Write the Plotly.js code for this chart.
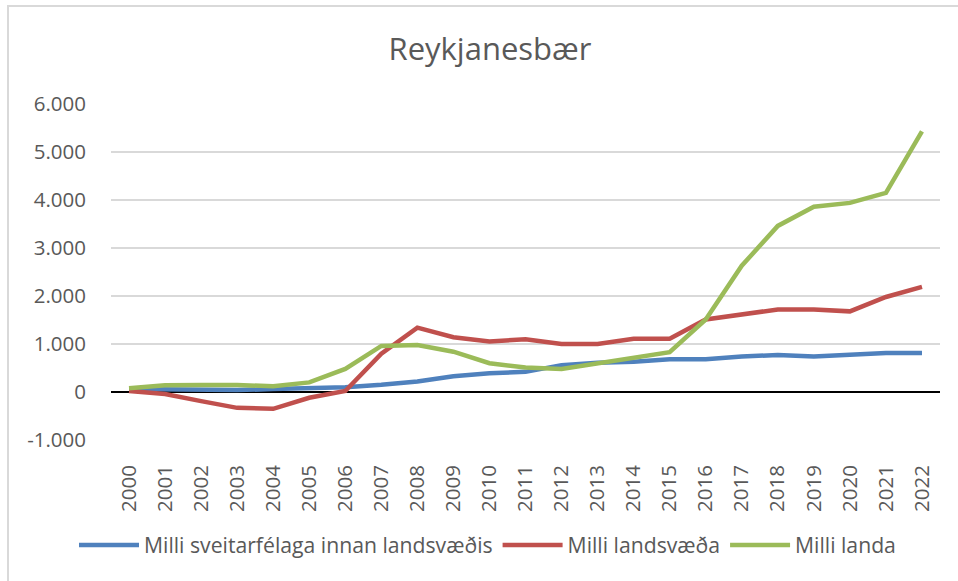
<!DOCTYPE html>
<html>
<head>
<meta charset="utf-8">
<script src="https://cdn.plot.ly/plotly-3.0.1.min.js"></script>
<style>
  html, body { margin: 0; padding: 0; background: #fff; }
  #frame { position: absolute; left: 7px; top: 5px; width: 1000px; height: 640px; border: 2px solid #d9d9d9; box-sizing: border-box; }
  #chart { position: absolute; left: 0; top: 0; width: 958px; height: 581px; }
</style>
</head>
<body>
<div id="frame"></div>
<div id="chart"></div>
<script>
const years = ["2000","2001","2002","2003","2004","2005","2006","2007","2008","2009","2010","2011","2012","2013","2014","2015","2016","2017","2018","2019","2020","2021","2022"];
const milliSveitarfelaga = [60, 50, 50, 40, 60, 70, 100, 150, 220, 330, 390, 420, 560, 610, 630, 680, 680, 740, 770, 740, 770, 810, 810];
const milliLandsvaeda = [20, -40, -190, -330, -350, -120, 20, 800, 1340, 1140, 1050, 1100, 1000, 1000, 1110, 1110, 1510, 1610, 1720, 1720, 1680, 1980, 2190];
const milliLanda = [80, 140, 145, 145, 120, 200, 480, 960, 980, 840, 600, 510, 480, 590, 700, 830, 1510, 2630, 3460, 3860, 3940, 4150, 5430];
const yTickVals = [-1000, 0, 1000, 2000, 3000, 4000, 5000, 6000];
const yTickText = ["-1.000", "0", "1.000", "2.000", "3.000", "4.000", "5.000", "6.000"];

const FONT = "'Open Sans', sans-serif";
const GREY = "#595959";

const traces = [
  { x: years, y: milliSveitarfelaga, name: "Milli sveitarfélaga innan landsvæðis", type: "scatter", mode: "lines", line: { color: "#4F81BD", width: 4.5 } },
  { x: years, y: milliLandsvaeda, name: "Milli landsvæða", type: "scatter", mode: "lines", line: { color: "#C0504D", width: 4.5 } },
  { x: years, y: milliLanda, name: "Milli landa", type: "scatter", mode: "lines", line: { color: "#9BBB59", width: 4.5 } }
];

const layout = {
  width: 958, height: 581,
  paper_bgcolor: "rgba(0,0,0,0)", plot_bgcolor: "rgba(0,0,0,0)",
  margin: { l: 111, r: 18, t: 104, b: 141 },
  font: { family: FONT, size: 20, color: GREY },
  title: { text: "Reykjanesbær", font: { family: FONT, size: 31, color: GREY }, x: 490/958, xref: "container", xanchor: "center", y: 1 - 49/581, yref: "container", yanchor: "middle" },
  showlegend: true,
  legend: { orientation: "h", x: (74 - 111)/829, xanchor: "left", y: -0.313, yanchor: "middle", itemwidth: 60, font: { family: FONT, size: 21.2, color: GREY }, bgcolor: "rgba(0,0,0,0)" },
  xaxis: {
    type: "category", range: [-0.5, 22.5], tickangle: -90, showgrid: false, zeroline: false, showline: false,
    ticks: "", tickfont: { family: FONT, size: 20.5, color: GREY }, ticklabelstandoff: 20
  },
  yaxis: {
    range: [-1000, 6000], tickvals: yTickVals, ticktext: yTickText,
    showgrid: true, gridcolor: "#d9d9d9", gridwidth: 1.5,
    zeroline: true, zerolinecolor: "#000000", zerolinewidth: 2,
    showline: false, ticks: "", tickfont: { family: FONT, size: 20.5, color: GREY }, ticklabelstandoff: 24
  }
};

Plotly.newPlot("chart", traces, layout, { displayModeBar: false, staticPlot: true });
</script>
</body>
</html>
